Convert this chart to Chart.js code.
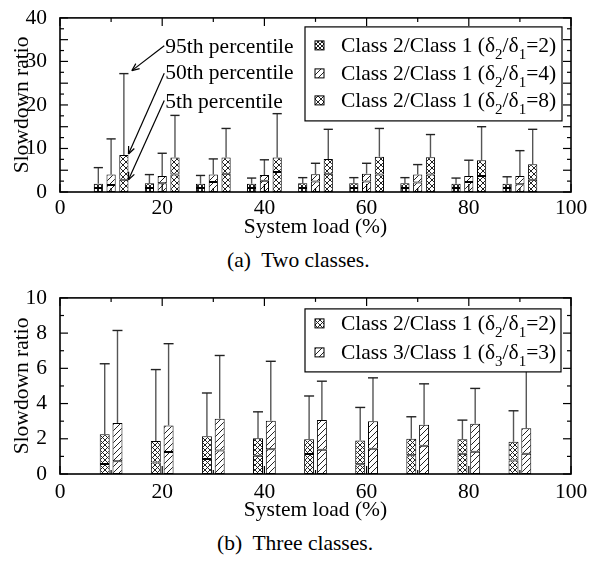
<!DOCTYPE html>
<html><head><meta charset="utf-8">
<script src="https://cdn.jsdelivr.net/npm/chart.js@4.4.0/dist/chart.umd.min.js"></script>
<style>
html,body{margin:0;padding:0;background:#fff;width:601px;height:561px;overflow:hidden;position:relative;}
#c1{position:absolute;left:0;top:0;}
#c2{position:absolute;left:0;top:280px;}
.cap{position:absolute;font-family:'Liberation Serif','Times New Roman',serif;font-size:21.5px;line-height:21.5px;color:#000;white-space:pre;}
</style></head>
<body>
<canvas id="c1" width="601" height="245"></canvas>
<div class="cap" style="left:227px;top:250px;">(a)  Two classes.</div>
<canvas id="c2" width="601" height="250"></canvas>
<div class="cap" style="left:217px;top:533px;">(b)  Three classes.</div>
<script>
// ---------- DATA ----------
const loads = [10, 20, 30, 40, 50, 60, 70, 80, 90];
const xTickValues = [0, 20, 40, 60, 80, 100];
const xMinorValues = [10, 30, 50, 70, 90];

// (a) Two classes
const aYTicks = [0, 5, 10, 15, 20, 25, 30, 35, 40];
const aYMinor = [2.5, 7.5, 12.5, 17.5, 22.5, 27.5, 32.5, 37.5];
const aR2_p5  = [0.9, 0.9, 0.9, 0.9, 0.9, 0.9, 0.9, 0.9, 0.9];
const aR2_p50 = [1.9, 2.0, 1.9, 1.9, 2.0, 2.0, 2.0, 1.9, 1.9];
const aR2_p95 = [5.6, 4.0, 3.8, 3.2, 3.3, 3.3, 3.3, 3.2, 3.5];
const aR4_p5  = [1.6, 2.0, 2.3, 2.6, 2.4, 2.4, 2.2, 2.3, 1.8];
const aR4_p50 = [4.0, 3.7, 4.0, 3.9, 4.1, 4.2, 4.0, 3.7, 3.7];
const aR4_p95 = [12.2, 8.9, 7.6, 7.4, 6.6, 6.6, 6.3, 7.3, 9.5];
const aR8_p5  = [2.8, 4.0, 4.2, 4.6, 4.2, 4.0, 4.0, 3.7, 2.8];
const aR8_p50 = [8.5, 7.9, 7.9, 7.9, 7.6, 8.1, 8.0, 7.3, 6.4];
const aR8_p95 = [27.2, 17.6, 14.6, 18.0, 14.4, 14.6, 13.2, 15.0, 14.4];
const aLabels = ['Class 2/Class 1 (δ_2/δ_1=2)', 'Class 2/Class 1 (δ_2/δ_1=4)', 'Class 2/Class 1 (δ_2/δ_1=8)'];
const aNotes = ['95th percentile', '50th percentile', '5th percentile'];

// (b) Three classes
const bYTicks = [0, 2, 4, 6, 8, 10];
const bYMinor = [1, 3, 5, 7, 9];
const bC2_p5  = [0.57, 0.66, 0.85, 1.04, 1.13, 0.55, 1.06, 1.15, 0.76];
const bC2_p50 = [2.26, 1.87, 2.15, 2.03, 1.98, 1.90, 2.00, 1.98, 1.83];
const bC2_p95 = [6.26, 5.93, 4.60, 3.53, 4.43, 3.78, 3.25, 3.06, 3.59];
const bC3_p5  = [0.72, 1.25, 1.34, 1.41, 1.38, 1.43, 1.60, 1.26, 1.15];
const bC3_p50 = [2.90, 2.76, 3.14, 3.02, 3.06, 3.00, 2.80, 2.86, 2.60];
const bC3_p95 = [8.15, 7.40, 6.73, 6.40, 5.27, 5.46, 5.12, 4.86, 7.00];
const bLabels = ['Class 2/Class 1 (δ_2/δ_1=2)', 'Class 3/Class 1 (δ_3/δ_1=3)'];

const yTitle = 'Slowdown ratio';
const xTitle = 'System load (%)';

// ---------- STYLE ----------
const FONT = "'Liberation Serif','Times New Roman',serif";
const FS = 21.5;
Chart.defaults.font.family = FONT;
Chart.defaults.font.size = FS;
Chart.defaults.color = '#000';

function makePattern(kind, size) {
  const c = document.createElement('canvas');
  c.width = c.height = size;
  const g = c.getContext('2d');
  g.fillStyle = '#fff'; g.fillRect(0, 0, size, size);
  g.strokeStyle = '#222'; g.lineWidth = 1;
  g.beginPath();
  g.moveTo(-1, size + 1); g.lineTo(size + 1, -1);
  g.moveTo(-2, 2); g.lineTo(2, -2);
  g.moveTo(size - 2, size + 2); g.lineTo(size + 2, size - 2);
  if (kind === 'cross') {
    g.moveTo(-1, -1); g.lineTo(size + 1, size + 1);
    g.moveTo(size - 2, -2); g.lineTo(size + 2, 2);
    g.moveTo(-2, size - 2); g.lineTo(2, size + 2);
  }
  g.stroke();
  return document.createElement('canvas').getContext('2d').createPattern(c, 'repeat');
}
const patFine = makePattern('cross', 4);
const patCross = makePattern('cross', 6);
const patCross5 = makePattern('cross', 5);
const patDiag = makePattern('diag', 6);

function drawRichText(ctx, str, x, y) {
  let cx = x;
  for (let i = 0; i < str.length; i++) {
    let ch = str[i];
    if (ch === '_' && i + 1 < str.length) {
      ch = str[++i];
      ctx.font = '15px ' + FONT;
      ctx.fillText(ch, cx, y + 7);
      cx += ctx.measureText(ch).width;
      ctx.font = FS + 'px ' + FONT;
    } else {
      ctx.fillText(ch, cx, y);
      cx += ctx.measureText(ch).width;
    }
  }
}

function line(ctx, x1, y1, x2, y2) { ctx.beginPath(); ctx.moveTo(x1, y1); ctx.lineTo(x2, y2); ctx.stroke(); }

const decor = {
  id: 'decor',
  afterDatasetsDraw(chart, args, o) {
    const ctx = chart.ctx, a = chart.chartArea, xs = chart.scales.x, ys = chart.scales.y;
    ctx.save();
    o.series.forEach((s, k) => {
      const meta = chart.getDatasetMeta(2 * k + 1);
      meta.data.forEach((el, j) => {
        const x = el.x, w = el.width;
        const yt = ys.getPixelForValue(s.p50[j]);
        const y95 = ys.getPixelForValue(s.p95[j]);
        ctx.strokeStyle = '#555'; ctx.lineWidth = 1.4;
        line(ctx, x, yt, x, y95);
        ctx.strokeStyle = '#222';
        line(ctx, x - w / 2, y95, x + w / 2, y95);
      });
    });
    ctx.strokeStyle = '#000'; ctx.lineWidth = 1.6;
    ctx.strokeRect(a.left, a.top, a.right - a.left, a.bottom - a.top);
    ctx.lineWidth = 1.2;
    const yt = (vals, len) => vals.forEach(v => {
      const p = ys.getPixelForValue(v);
      line(ctx, a.left, p, a.left + len, p);
      line(ctx, a.right, p, a.right - len, p);
    });
    const xt = (vals, len) => vals.forEach(v => {
      const p = xs.getPixelForValue(v);
      line(ctx, p, a.top, p, a.top + len);
      line(ctx, p, a.bottom, p, a.bottom - len);
    });
    yt(o.yMajor, 8); yt(o.yMinor, 4); xt(xTickValues, 8); xt(xMinorValues, 4);
    const L = o.legend;
    const bx = L.left, by = a.top + L.top, bw = a.right - L.rightGap - L.left, bh = L.height;
    ctx.fillStyle = '#fff'; ctx.fillRect(bx, by, bw, bh);
    ctx.strokeStyle = '#000'; ctx.lineWidth = 1.2; ctx.strokeRect(bx, by, bw, bh);
    ctx.font = FS + 'px ' + FONT; ctx.textBaseline = 'alphabetic'; ctx.textAlign = 'left';
    o.series.forEach((s, k) => {
      const base = a.top + L.rows[k];
      ctx.fillStyle = s.pattern; ctx.fillRect(bx + 10, base - 11, 9, 9);
      ctx.strokeStyle = '#000'; ctx.lineWidth = 1; ctx.strokeRect(bx + 10, base - 11, 9, 9);
      ctx.fillStyle = '#000';
      drawRichText(ctx, s.label, bx + 36, base);
    });
    ctx.fillStyle = '#000'; ctx.font = FS + 'px ' + FONT;
    ctx.textAlign = 'center'; ctx.textBaseline = 'alphabetic';
    ctx.fillText(xTitle, (a.left + a.right) / 2, a.bottom + o.xTitleOffset);
    ctx.save();
    ctx.translate(28, (a.top + a.bottom) / 2); ctx.rotate(-Math.PI / 2);
    ctx.fillText(yTitle, 0, 0);
    ctx.restore();
    if (o.notes) {
      const n = o.notes;
      const el = chart.getDatasetMeta(5).data[0];
      const s = o.series[2];
      ctx.textAlign = 'left';
      const targets = [
        [el.x + 8, ys.getPixelForValue(s.p95[0]) - 3],
        [el.x + el.width / 2, ys.getPixelForValue(s.p50[0]) - 1],
        [el.x + el.width / 2, ys.getPixelForValue(s.p5[0])]
      ];
      n.texts.forEach((t, i) => {
        const tx = xs.getPixelForValue(n.x);
        const base = ys.getPixelForValue(n.y[i]);
        ctx.fillStyle = '#000';
        ctx.fillText(t, tx, base);
        const sx = tx - 1, sy = base - n.startDy[i];
        const [ex, ey] = targets[i];
        ctx.strokeStyle = '#000'; ctx.lineWidth = 1.2;
        line(ctx, sx, sy, ex, ey);
        const ang = Math.atan2(ey - sy, ex - sx);
        const hl = 8, ha = 0.4;
        line(ctx, ex, ey, ex - hl * Math.cos(ang - ha), ey - hl * Math.sin(ang - ha));
        line(ctx, ex, ey, ex - hl * Math.cos(ang + ha), ey - hl * Math.sin(ang + ha));
      });
    }
    ctx.restore();
  }
};

function buildDatasets(series) {
  const ds = [];
  series.forEach((s, k) => {
    const common = { stack: 's' + k, backgroundColor: s.pattern, borderColor: '#000', borderWidth: 1, borderSkipped: false };
    ds.push(Object.assign({ data: loads.map((x, j) => ({ x: x, y: s.p5[j] })) }, common));
    ds.push(Object.assign({ data: loads.map((x, j) => ({ x: x, y: s.p50[j] - s.p5[j] })) }, common));
  });
  return ds;
}

function makeChart(id, series, yMax, yTicks, yMinor, padTop, xHeight, catPct, barPct, extra) {
  return new Chart(document.getElementById(id), {
    type: 'bar',
    data: { datasets: buildDatasets(series) },
    plugins: [decor],
    options: {
      responsive: false, animation: false, devicePixelRatio: 1,
      categoryPercentage: catPct, barPercentage: barPct,
      layout: { padding: { top: padTop, right: 30, left: 0, bottom: 0 } },
      plugins: {
        legend: { display: false }, tooltip: { enabled: false },
        decor: Object.assign({ series: series, yMajor: yTicks, yMinor: yMinor }, extra)
      },
      scales: {
        x: {
          type: 'linear', min: 0, max: 100, offset: false,
          grid: { display: false, offset: false }, border: { display: false },
          afterBuildTicks: s => { s.ticks = xTickValues.map(v => ({ value: v })); },
          ticks: { padding: extra.xTickPad, maxRotation: 0, autoSkip: false, color: '#000' },
          afterFit: s => { s.height = xHeight; }
        },
        y: {
          stacked: true, min: 0, max: yMax,
          grid: { display: false }, border: { display: false },
          afterBuildTicks: s => { s.ticks = yTicks.map(v => ({ value: v })); },
          ticks: { padding: 5, color: '#000' },
          afterFit: s => { s.width = 60; }
        }
      }
    }
  });
}

const aSeries = [
  { p5: aR2_p5, p50: aR2_p50, p95: aR2_p95, pattern: patFine, label: aLabels[0] },
  { p5: aR4_p5, p50: aR4_p50, p95: aR4_p95, pattern: patDiag, label: aLabels[1] },
  { p5: aR8_p5, p50: aR8_p50, p95: aR8_p95, pattern: patCross, label: aLabels[2] }
];
const bSeries = [
  { p5: bC2_p5, p50: bC2_p50, p95: bC2_p95, pattern: patCross5, label: bLabels[0] },
  { p5: bC3_p5, p50: bC3_p50, p95: bC3_p95, pattern: patDiag, label: bLabels[1] }
];

makeChart('c1', aSeries, 40, aYTicks, aYMinor, 14, 53, 0.75, 0.72, {
  legend: { left: 305, rightGap: 9, top: 9, height: 94, rows: [34, 62, 89] },
  xTitleOffset: 41, xTickPad: -5,
  notes: { texts: aNotes, x: 20.6, y: [32.0, 25.9, 19.4], startDy: [7, 6, 7] }
});
makeChart('c2', bSeries, 10, bYTicks, bYMinor, 16, 56, 0.5, 0.78, {
  legend: { left: 305, rightGap: 10, top: 11, height: 63, rows: [32, 61] },
  xTitleOffset: 42, xTickPad: -3
});
</script>
</body></html>
